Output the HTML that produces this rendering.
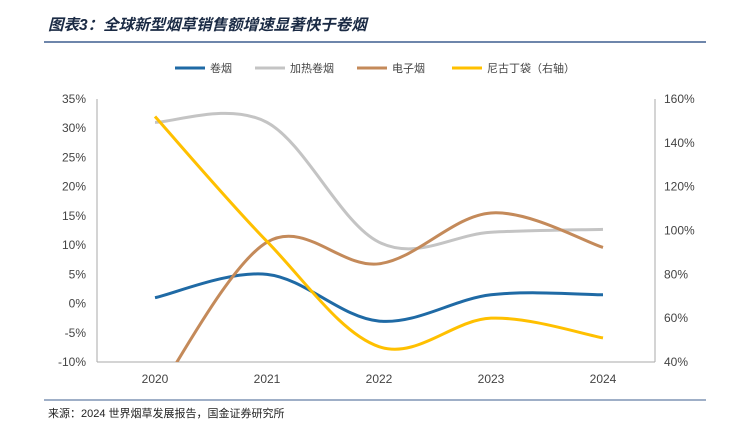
<!DOCTYPE html>
<html><head><meta charset="utf-8"><style>
html,body{margin:0;padding:0;background:#fff;width:732px;height:428px;overflow:hidden;font-family:"Liberation Sans","Noto Sans CJK SC",sans-serif}
svg{display:block}
</style></head><body>
<svg id="c" width="732" height="428" xmlns="http://www.w3.org/2000/svg">
<text x="48" y="30" font-size="15.5" font-weight="bold" font-style="italic" fill="#1a2a44" font-family="Liberation Sans,Noto Sans CJK SC,sans-serif">图表3：全球新型烟草销售额增速显著快于卷烟</text>
<line x1="44" y1="42" x2="706" y2="42" stroke="#3f5f8f" stroke-width="1.5"/>
<line x1="44" y1="400" x2="706" y2="400" stroke="#3f5f8f" stroke-width="1"/>
<text x="48" y="417" font-size="11" fill="#222" font-family="Liberation Sans,Noto Sans CJK SC,sans-serif">来源：2024 世界烟草发展报告，国金证券研究所</text>
<defs><clipPath id="pc"><rect x="97" y="99" width="558" height="263"/></clipPath></defs>
<g id="axes"></g><g id="lines" clip-path="url(#pc)"></g><g id="legend"></g>
</svg>
<script>
const years=["2020","2021","2022","2023","2024"];
const cigarette=[1,5,-3,1.5,1.5];
const heated=[31,31,10.5,12.2,12.7];
const ecig=[-16,10.5,6.8,15.5,9.6];
const pouch=[152,95,47,60,51];
const leftTicks=[35,30,25,20,15,10,5,0,-5,-10];
const rightTicks=[160,140,120,100,80,60,40];
const seriesNames=["卷烟","加热卷烟","电子烟","尼古丁袋（右轴）"];
const NS="http://www.w3.org/2000/svg";
const plotTop=99,plotBot=362,plotLeft=97,plotRight=655;
const yL=v=>plotTop+(35-v)*(plotBot-plotTop)/45;
const yR=v=>plotTop+(160-v)*(plotBot-plotTop)/120;
const xC=i=>155+i*112;
function mk(tag,attrs,parent,text){const e=document.createElementNS(NS,tag);for(const k in attrs)e.setAttribute(k,attrs[k]);if(text!==undefined)e.textContent=text;parent.appendChild(e);return e;}
const ax=document.getElementById('axes');
let a=mk('line',{x1:plotLeft,y1:plotTop,x2:plotLeft,y2:plotBot,stroke:'#aaa'},ax);


a=mk('line',{x1:plotRight,y1:plotTop,x2:plotRight,y2:plotBot,stroke:'#aaa'},ax);


a=mk('line',{x1:plotLeft,y1:plotBot,x2:plotRight,y2:plotBot,stroke:'#aaa'},ax);


leftTicks.forEach(v=>{const t=mk('text',{x:86,y:yL(v)+4,'font-size':12,fill:'#444','text-anchor':'end'},ax,v+'%');

});
rightTicks.forEach(v=>{const t=mk('text',{x:664,y:yR(v)+4,'font-size':12,fill:'#444'},ax,v+'%');

});
years.forEach((y,i)=>{const t=mk('text',{x:xC(i),y:383,'font-size':12,fill:'#444','text-anchor':'middle'},ax,y);

});
function path(pts){let d=`M${pts[0][0]},${pts[0][1]}`;for(let i=0;i<pts.length-1;i++){const p0=pts[Math.max(i-1,0)],p1=pts[i],p2=pts[i+1],p3=pts[Math.min(i+2,pts.length-1)];const t=0.17;
d+=` C${p1[0]+(p2[0]-p0[0])*t},${p1[1]+(p2[1]-p0[1])*t} ${p2[0]-(p3[0]-p1[0])*t},${p2[1]-(p3[1]-p1[1])*t} ${p2[0]},${p2[1]}`;}return d;}
const colors=['#1f6aa5','#c4c4c4','#c48a5a','#ffc000'];
const L=document.getElementById('lines');
[[cigarette,yL],[heated,yL],[ecig,yL],[pouch,yR]].forEach(([arr,f],k)=>{
const p=mk('path',{d:path(arr.map((v,i)=>[xC(i),f(v)])),fill:'none',stroke:colors[k],'stroke-width':3},L);

});
const lg=document.getElementById('legend');
const lx=[175,255,357,452];
seriesNames.forEach((n,k)=>{mk('line',{x1:lx[k],y1:68,x2:lx[k]+30,y2:68,stroke:colors[k],'stroke-width':3},lg);
const t=mk('text',{x:lx[k]+35,y:72,'font-size':11,fill:'#444'},lg,n);

});
</script>
</body></html>
